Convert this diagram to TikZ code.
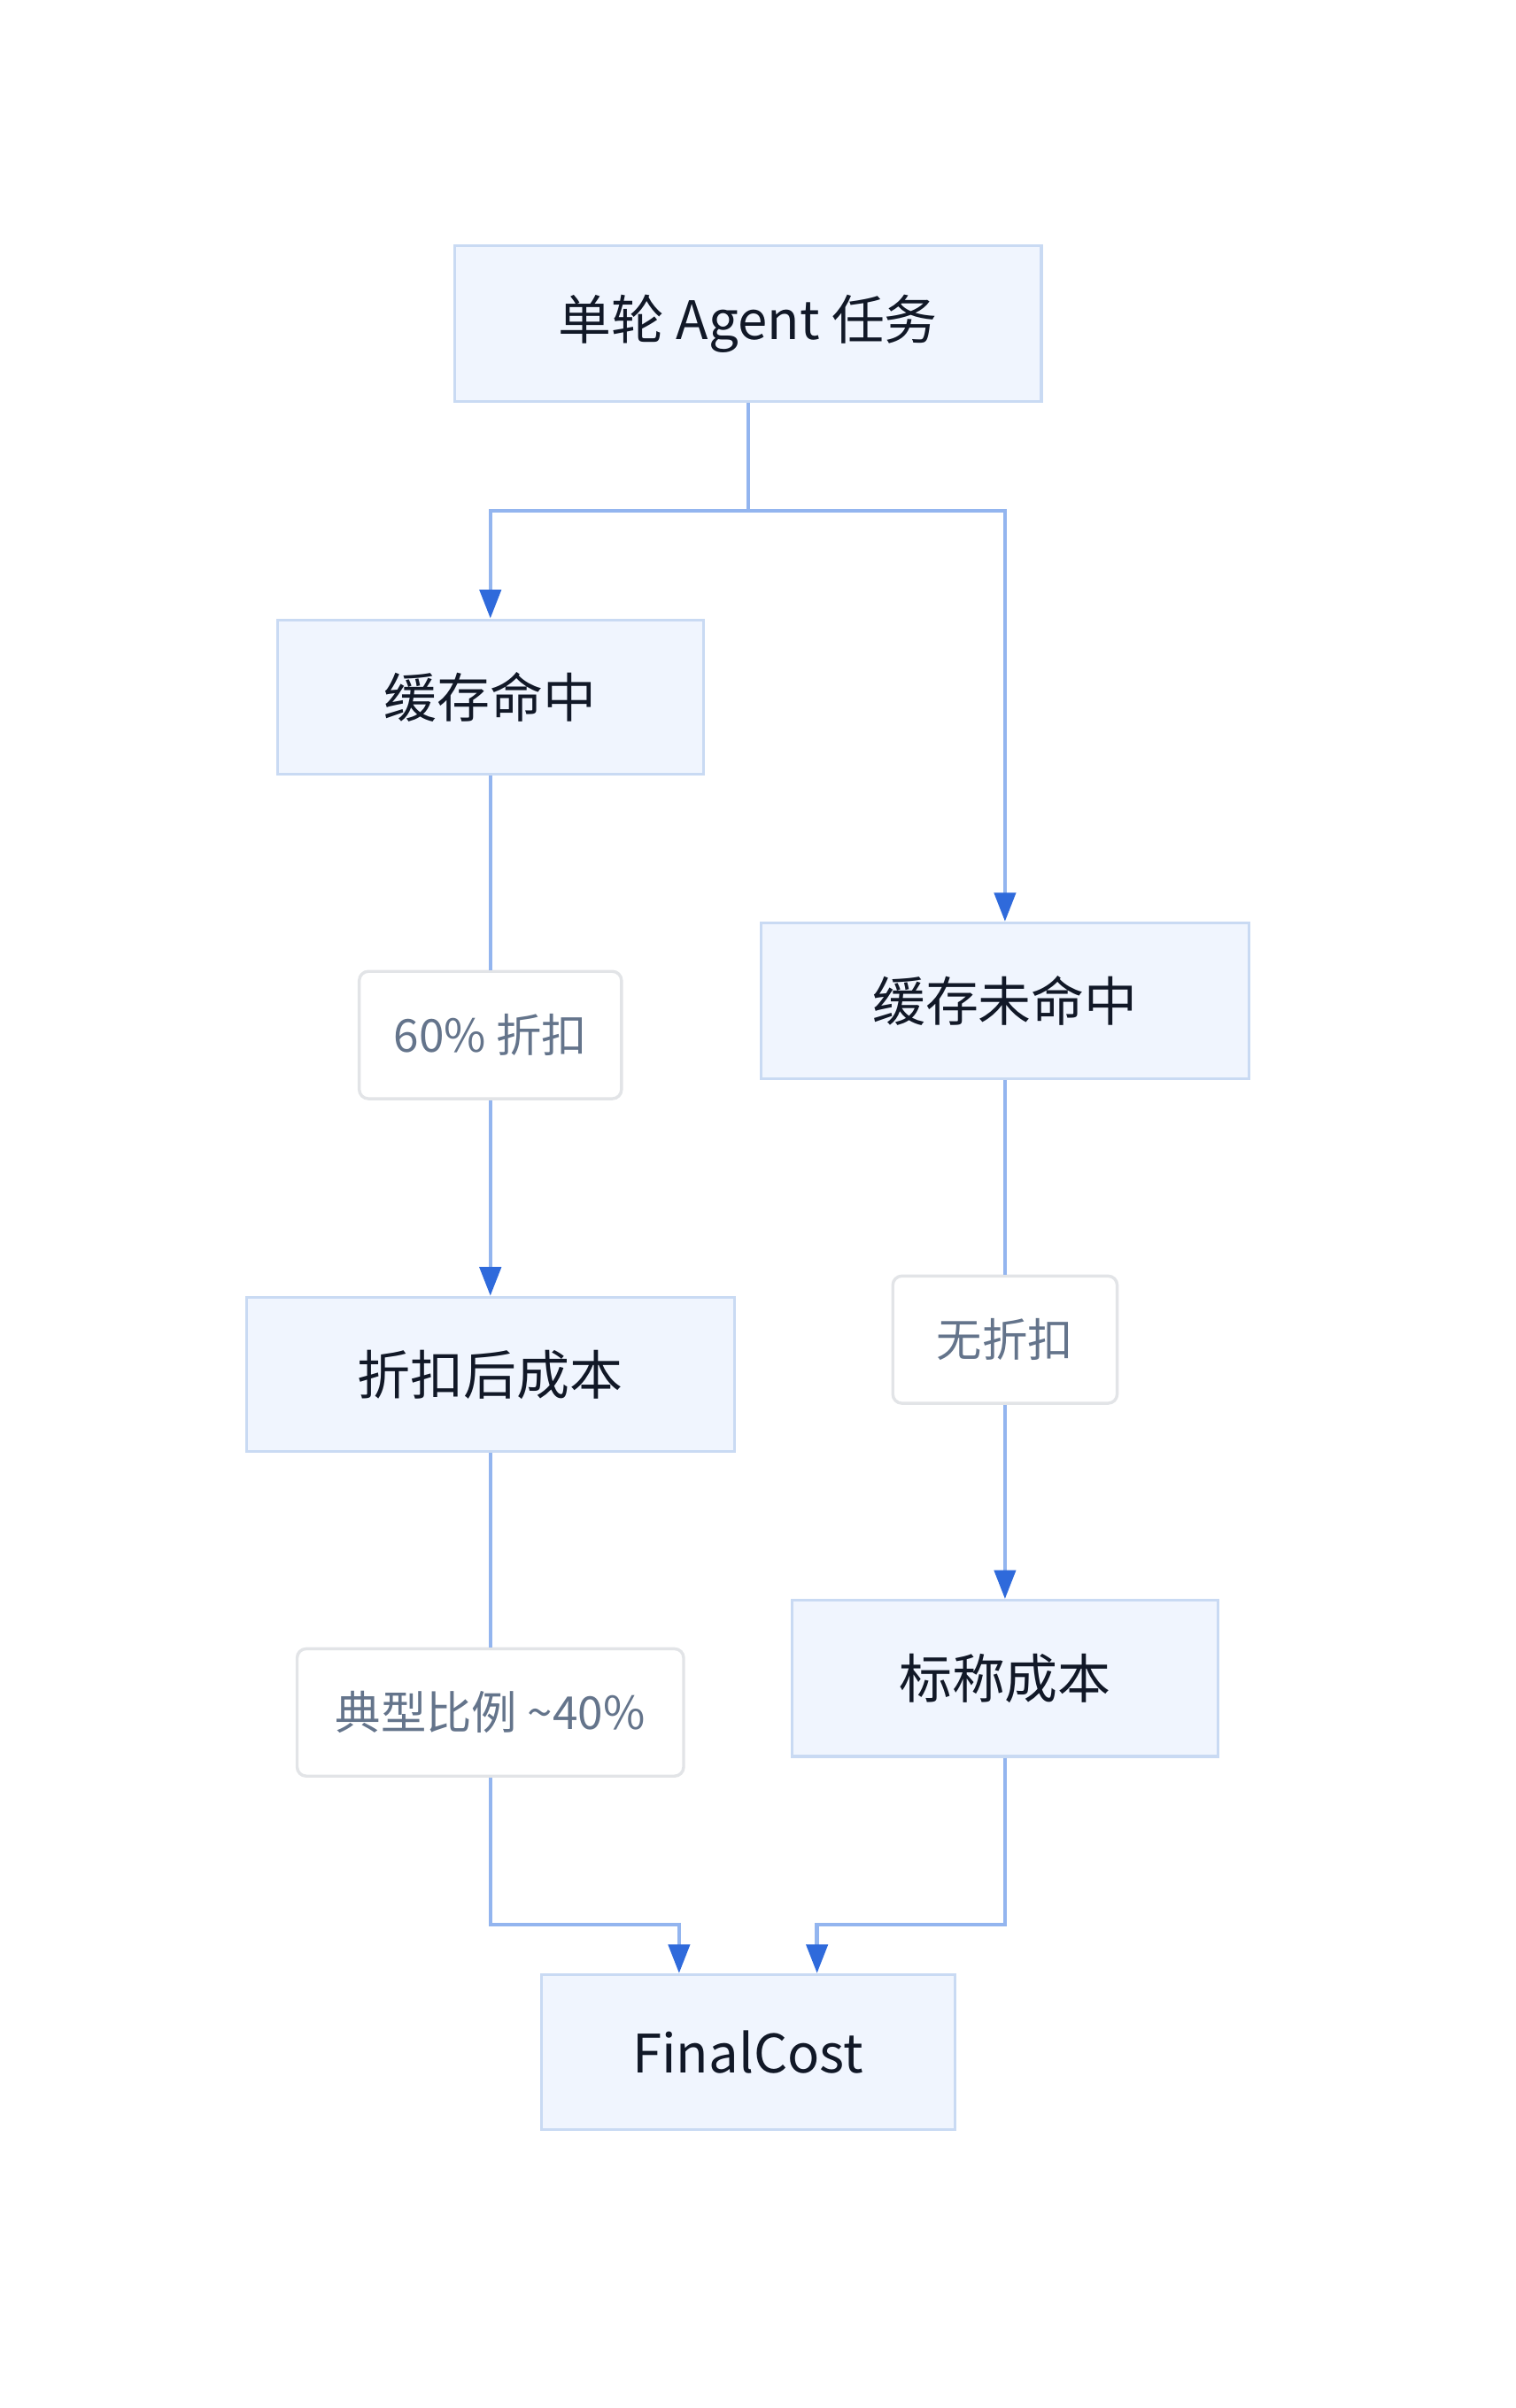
\documentclass[tikz,border=0pt]{standalone}
\usepackage{fontspec}
\setmainfont{Noto Sans CJK SC}
\usetikzlibrary{arrows.meta}
\definecolor{boxfill}{HTML}{F0F5FE}
\definecolor{boxline}{HTML}{C9DAF3}
\definecolor{edge}{HTML}{93B5EF}
\definecolor{tip}{HTML}{2F6ADB}
\definecolor{txt}{HTML}{111827}
\definecolor{labtxt}{HTML}{64748B}
\definecolor{labline}{HTML}{E2E4E7}
\tikzset{
  nodebox/.style={draw=boxline, fill=boxfill, line width=1.8pt, inner sep=0pt,
    text=txt, font=\fontsize{35}{40}\selectfont},
  labbox/.style={draw=labline, fill=white, line width=2pt, rounded corners=6pt, inner sep=0pt,
    text=labtxt, font=\fontsize{30}{36}\selectfont},
  conn/.style={draw=edge, line width=2.6pt},
  arr/.style={conn, -{Triangle[length=19pt,width=14pt,color=tip]}}
}
\begin{document}
\begin{tikzpicture}[x=1pt,y=-1pt]
\useasboundingbox (0,0) rectangle (1000,1589);
\node[nodebox, minimum width=387pt, minimum height=103pt] (n1) at (493.5,213.5) {单轮 Agent 任务};
\node[nodebox, minimum width=281pt, minimum height=102pt] (hit) at (323.5,460) {缓存命中};
\node[nodebox, minimum width=322pt, minimum height=103pt] (miss) at (663,660.5) {缓存未命中};
\node[labbox, minimum width=173pt, minimum height=84pt] (l60) at (323.5,683) {60\% 折扣};
\node[nodebox, minimum width=322pt, minimum height=102pt] (disc) at (323.5,907) {折扣后成本};
\node[labbox, minimum width=148pt, minimum height=84pt] (l0) at (663,884) {无折扣};
\node[labbox, minimum width=255pt, minimum height=84pt] (l40) at (323.5,1130) {典型比例 \textasciitilde40\%};
\node[nodebox, minimum width=281pt, minimum height=103pt] (nom) at (663,1107.5) {标称成本};
\node[nodebox, minimum width=273pt, minimum height=102pt] (fin) at (493.5,1354) {FinalCost};
\coordinate (s) at (493.5,337);
\coordinate (jl) at (323.5,1270);
\coordinate (jr) at (663,1270);
\draw[arr] (n1.south) -- (s) -| (hit.north);
\draw[arr] (s) -| (miss.north);
\draw[conn] (hit.south) -- (l60.north);
\draw[arr] (l60.south) -- (disc.north);
\draw[conn] (miss.south) -- (l0.north);
\draw[arr] (l0.south) -- (nom.north);
\draw[conn] (disc.south) -- (l40.north);
\draw[arr] (l40.south) -- (jl) -| ([xshift=-45.5pt]fin.north);
\draw[arr] (nom.south) -- (jr) -| ([xshift=45.5pt]fin.north);
\end{tikzpicture}
\end{document}
